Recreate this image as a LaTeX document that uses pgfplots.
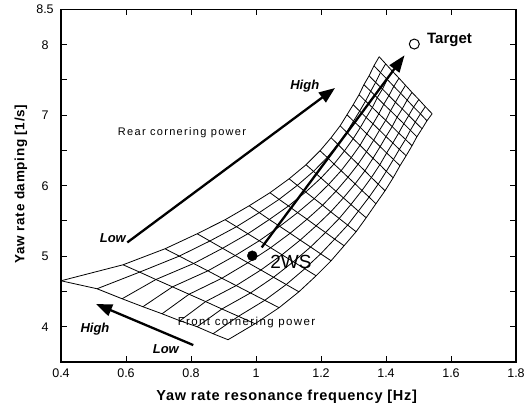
\documentclass[border=0pt]{standalone}
\usepackage{fontspec}
\setmainfont{Liberation Sans}
\newfontfamily\spacedfont[LetterSpace=12]{Liberation Sans}
\newfontfamily\labelfont[LetterSpace=5]{Liberation Sans}
\usepackage{pgfplots}
\usepackage{pgfplotstable}
\pgfplotsset{compat=1.18}
\usetikzlibrary{arrows.meta}

% carpet mesh: i = front cornering power index (0 = low), j = rear cornering power index (0 = low)
\pgfplotstableread{
i j x y
0 0 0.914 3.816
1 0 0.868 3.901
2 0 0.819 4.000
3 0 0.766 4.085
4 0 0.711 4.184
5 0 0.652 4.284
6 0 0.588 4.397
7 0 0.511 4.539
8 0 0.400 4.652
0 1 0.997 4.043
1 1 0.946 4.148
2 1 0.895 4.252
3 1 0.845 4.357
4 1 0.794 4.461
5 1 0.743 4.566
6 1 0.692 4.670
7 1 0.642 4.775
8 1 0.591 4.879
0 2 1.071 4.270
1 2 1.027 4.375
2 2 0.983 4.479
3 2 0.939 4.584
4 2 0.895 4.688
5 2 0.852 4.793
6 2 0.808 4.897
7 2 0.764 5.002
8 2 0.720 5.106
0 3 1.132 4.496
1 3 1.093 4.599
2 3 1.054 4.702
3 3 1.015 4.805
4 3 0.975 4.908
5 3 0.936 5.010
6 3 0.897 5.113
7 3 0.858 5.216
8 3 0.819 5.319
0 4 1.185 4.723
1 4 1.150 4.822
2 4 1.115 4.922
3 4 1.080 5.021
4 4 1.045 5.121
5 4 1.010 5.220
6 4 0.975 5.319
7 4 0.940 5.419
8 4 0.905 5.518
0 5 1.231 4.936
1 5 1.199 5.034
2 5 1.168 5.131
3 5 1.136 5.229
4 5 1.105 5.326
5 5 1.073 5.424
6 5 1.041 5.521
7 5 1.010 5.619
8 5 0.979 5.716
0 6 1.271 5.149
1 6 1.242 5.243
2 6 1.214 5.337
3 6 1.185 5.431
4 6 1.157 5.525
5 6 1.128 5.619
6 6 1.100 5.713
7 6 1.071 5.807
8 6 1.043 5.901
0 7 1.308 5.348
1 7 1.282 5.442
2 7 1.256 5.536
3 7 1.230 5.630
4 7 1.205 5.724
5 7 1.179 5.817
6 7 1.153 5.911
7 7 1.127 6.005
8 7 1.102 6.099
0 8 1.339 5.546
1 8 1.315 5.640
2 8 1.292 5.734
3 8 1.269 5.828
4 8 1.246 5.922
5 8 1.223 6.016
6 8 1.200 6.110
7 8 1.177 6.204
8 8 1.154 6.298
0 9 1.369 5.745
1 9 1.348 5.839
2 9 1.326 5.933
3 9 1.305 6.027
4 9 1.283 6.121
5 9 1.262 6.214
6 9 1.240 6.308
7 9 1.219 6.402
8 9 1.197 6.496
0 10 1.397 5.929
1 10 1.376 6.023
2 10 1.355 6.117
3 10 1.335 6.211
4 10 1.314 6.305
5 10 1.293 6.399
6 10 1.272 6.493
7 10 1.252 6.587
8 10 1.231 6.681
0 11 1.422 6.113
1 11 1.401 6.205
2 11 1.381 6.298
3 11 1.360 6.390
4 11 1.340 6.482
5 11 1.320 6.574
6 11 1.299 6.667
7 11 1.279 6.759
8 11 1.259 6.851
0 12 1.443 6.284
1 12 1.423 6.374
2 12 1.402 6.465
3 12 1.382 6.555
4 12 1.362 6.646
5 12 1.341 6.736
6 12 1.321 6.826
7 12 1.300 6.917
8 12 1.280 7.007
0 13 1.462 6.426
1 13 1.441 6.516
2 13 1.421 6.607
3 13 1.400 6.697
4 13 1.380 6.788
5 13 1.360 6.878
6 13 1.339 6.968
7 13 1.319 7.059
8 13 1.299 7.149
0 14 1.480 6.567
1 14 1.460 6.658
2 14 1.439 6.748
3 14 1.419 6.839
4 14 1.399 6.929
5 14 1.378 7.020
6 14 1.358 7.110
7 14 1.337 7.201
8 14 1.317 7.291
0 15 1.495 6.695
1 15 1.475 6.787
2 15 1.455 6.880
3 15 1.434 6.972
4 15 1.414 7.064
5 15 1.393 7.156
6 15 1.373 7.249
7 15 1.353 7.341
8 15 1.332 7.433
0 16 1.511 6.809
1 16 1.490 6.903
2 16 1.470 6.997
3 16 1.450 7.091
4 16 1.429 7.185
5 16 1.409 7.278
6 16 1.389 7.372
7 16 1.368 7.466
8 16 1.348 7.560
0 17 1.526 6.922
1 17 1.506 7.020
2 17 1.485 7.117
3 17 1.465 7.215
4 17 1.445 7.312
5 17 1.424 7.410
6 17 1.404 7.507
7 17 1.383 7.605
8 17 1.363 7.702
0 18 1.542 7.021
1 18 1.521 7.122
2 18 1.501 7.223
3 18 1.480 7.324
4 18 1.460 7.425
5 18 1.440 7.526
6 18 1.419 7.628
7 18 1.399 7.729
8 18 1.379 7.830
}\meshdata
\pgfplotstablecreatecol[create col/expr={100*\thisrow{i}+\thisrow{j}}]{k}{\meshdata}
\pgfplotstablesort[sort key=k]{\meshbyi}{\meshdata}

\begin{document}
\begin{tikzpicture}
\useasboundingbox (-61bp,-47bp) rectangle (471bp,362bp);
\begin{axis}[
  at={(0,0)}, anchor=south west,
  scale only axis, width=455bp, height=352.5bp,
  xmin=0.4, xmax=1.8, ymin=3.5, ymax=8.5,
  xtick={0.4,0.6,0.8,1,1.2,1.4,1.6,1.8},
  xticklabels={0.4,0.6,0.8,1,1.2,1.4,1.6,1.8},
  ytick={4,4.5,5,5.5,6,6.5,7,7.5,8,8.5},
  yticklabels={4,,5,,6,,7,,8,8.5},
  tick align=inside,
  major tick length=6bp,
  every tick/.style={black, line width=1bp},
  axis line style={line width=1.5bp},
  ticklabel style={font=\fontsize{12.5bp}{14bp}\selectfont},
  xticklabel style={anchor=center, yshift=-11bp},
  yticklabel style={anchor=center, xshift=-16bp},
  clip=false,
]
\pgfplotsinvokeforeach{0,...,8}{
  \addplot[black, line width=0.8bp, restrict expr to domain={\thisrow{i}}{#1:#1}] table[x=x,y=y]{\meshbyi};
}
\pgfplotsinvokeforeach{0,...,18}{
  \addplot[black, line width=0.8bp, restrict expr to domain={\thisrow{j}}{#1:#1}] table[x=x,y=y]{\meshdata};
}
% 2WS point and target
\addplot[only marks, mark=*, mark size=5bp, black] coordinates {(0.9886,5.007)};
\addplot[only marks, mark=o, mark size=5bp, black, mark options={line width=1bp, fill=white}] coordinates {(1.4871,8.01)};

% arrows
\draw[line width=2.3bp, -{Triangle[length=16bp,width=12bp]}] (axis cs:0.604,5.196) -- (axis cs:1.243,7.386);
\draw[line width=2.3bp, -{Triangle[length=16bp,width=12bp]}] (axis cs:0.807,3.740) -- (axis cs:0.508,4.322);
\draw[line width=2.3bp, -{Triangle[length=17bp,width=12bp]}] (axis cs:1.0175,5.125) -- (axis cs:1.457,7.85);

% labels
\node[font=\bfseries\itshape\fontsize{13bp}{15bp}\selectfont] at (axis cs:1.150,7.407) {High};
\node[font=\bfseries\itshape\fontsize{13bp}{15bp}\selectfont] at (axis cs:0.5594,5.255) {Low};
\node[font=\bfseries\itshape\fontsize{13bp}{15bp}\selectfont] at (axis cs:0.5046,3.967) {High};
\node[font=\bfseries\itshape\fontsize{13bp}{15bp}\selectfont] at (axis cs:0.7226,3.684) {Low};
\node[font=\spacedfont\fontsize{11bp}{13bp}\selectfont] at (axis cs:0.7723,6.756) {Rear cornering power};
\node[font=\spacedfont\fontsize{11.5bp}{13bp}\selectfont] at (axis cs:0.9708,4.057) {Front cornering power};
\node[font=\fontsize{19bp}{21bp}\selectfont] at (axis cs:1.1077,4.915) {2WS};
\node[font=\bfseries\fontsize{15bp}{17bp}\selectfont, anchor=west, inner sep=0pt] at (axis cs:1.526,8.071) {Target};
\end{axis}
\node[font=\labelfont\bfseries\fontsize{14.5bp}{16bp}\selectfont] at (225.7bp,-35bp) {Yaw rate resonance frequency [Hz]};
\node[font=\labelfont\bfseries\fontsize{13.5bp}{15bp}\selectfont, rotate=90] at (-40bp,178bp) {Yaw rate damping [1/s]};
\end{tikzpicture}
\end{document}
